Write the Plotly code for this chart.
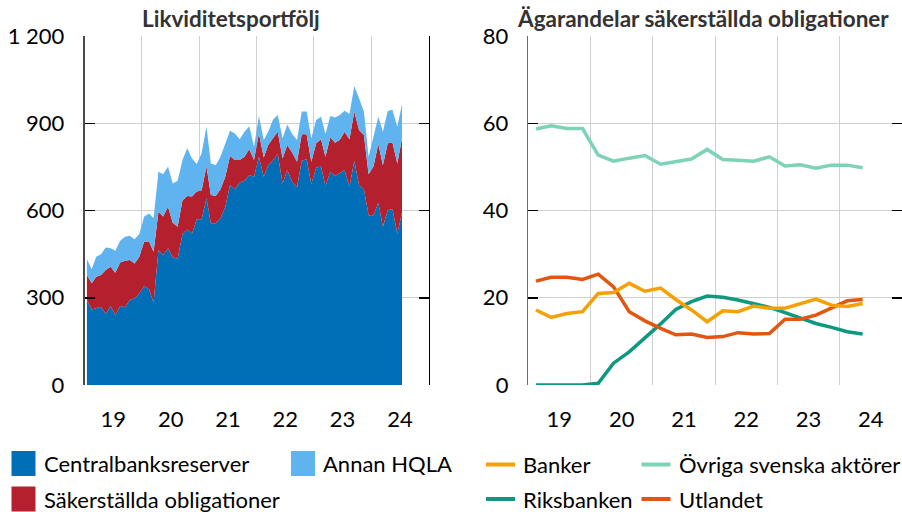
import plotly.graph_objects as go

W, H = 902, 512

# ---------------- data ----------------
month_dates = [f"{y}-{m:02d}-15" for y in range(2019, 2025) for m in range(1, 13)][:67]

centralbanksreserver = [292, 260, 264, 269, 244, 272, 241, 272, 267, 292, 298, 315,
                        340, 329, 283, 464, 447, 470, 439, 434, 519, 535, 521, 570,
                        570, 642, 556, 556, 573, 613, 688, 673, 696, 702, 722, 716,
                        785, 716, 756, 773, 794, 693, 739, 699, 680, 771, 776, 691,
                        748, 751, 684, 733, 719, 730, 739, 682, 771, 688, 673, 584,
                        584, 627, 544, 602, 604, 521, 592]
sakerstallda_oblig = [86, 90, 108, 109, 151, 135, 145, 149, 160, 138, 120, 126,
                      153, 164, 175, 132, 132, 143, 119, 110, 115, 115, 127, 95,
                      100, 109, 97, 94, 100, 103, 99, 101, 78, 83, 89, 58,
                      80, 66, 69, 75, 77, 86, 86, 100, 88, 91, 86, 77,
                      83, 94, 101, 119, 114, 113, 132, 163, 169, 189, 187, 141,
                      167, 202, 212, 229, 230, 241, 256]
annan_hqla = [54, 48, 69, 72, 78, 63, 76, 75, 83, 83, 83, 78,
              86, 97, 115, 137, 146, 138, 135, 158, 140, 164, 131, 95,
              127, 137, 109, 106, 112, 115, 87, 91, 71, 86, 79, 45,
              60, 60, 46, 65, 57, 69, 71, 64, 74, 78, 78, 80,
              80, 77, 78, 73, 87, 85, 72, 87, 88, 109, 80, 60,
              105, 93, 115, 111, 112, 126, 118]

quarter_dates = [f"{y}-{m:02d}-15" for y in range(2019, 2025) for m in (2, 5, 8, 11)][:22]

banker = [17.2, 15.5, 16.4, 16.8, 21.0, 21.2, 23.3, 21.5, 22.2, 19.6, 17.2, 14.5,
          17.0, 16.8, 18.1, 17.6, 17.6, 18.7, 19.7, 18.3, 18.0, 18.7]
ovriga_svenska = [58.7, 59.4, 58.8, 58.8, 52.7, 51.3, 52.0, 52.6, 50.6, 51.1, 51.8, 54.0,
                  51.7, 51.5, 51.3, 52.3, 50.2, 50.5, 49.7, 50.4, 50.4, 49.8]
riksbanken = [0.0, 0.0, 0.0, 0.0, 0.4, 5.0, 7.6, 10.7, 14.0, 17.3, 19.1, 20.4,
              20.1, 19.5, 18.6, 17.8, 16.6, 15.3, 14.1, 13.2, 12.2, 11.7]
utlandet = [23.8, 24.7, 24.7, 24.2, 25.4, 22.5, 16.8, 14.7, 13.0, 11.5, 11.7, 10.9,
            11.1, 12.0, 11.7, 11.8, 15.1, 15.1, 16.0, 17.6, 19.3, 19.6]

year_labels = ["19", "20", "21", "22", "23", "24"]
left_ticks = [0, 300, 600, 900, 1200]
left_ticktext = ["0", "300", "600", "900", "1 200"]
right_ticks = [0, 20, 40, 60, 80]

# ---------------- style ----------------
FONT = "Lato, 'Liberation Sans', sans-serif"
FS = 22
C_CB = "#006FB7"
C_SO = "#B5202E"
C_HQ = "#5FB4F0"
C_BANK = "#F5A005"
C_OVR = "#7DD3B6"
C_RIKS = "#0E9880"
C_UTL = "#E2560F"
GRID = "#CFCFCF"


def px(x):
    return x / W


def py(y):
    return 1 - y / H


fig = go.Figure()

for name, vals, col in [("Centralbanksreserver", centralbanksreserver, C_CB),
                        ("Säkerställda obligationer", sakerstallda_oblig, C_SO),
                        ("Annan HQLA", annan_hqla, C_HQ)]:
    fig.add_trace(go.Scatter(x=month_dates, y=vals, name=name, stackgroup="one",
                             mode="lines", line=dict(width=0, color=col),
                             fillcolor=col, showlegend=False,
                             xaxis="x", yaxis="y"))

for name, vals, col in [("Övriga svenska aktörer", ovriga_svenska, C_OVR),
                        ("Riksbanken", riksbanken, C_RIKS),
                        ("Utlandet", utlandet, C_UTL),
                        ("Banker", banker, C_BANK)]:
    fig.add_trace(go.Scatter(x=quarter_dates, y=vals, name=name, mode="lines",
                             line=dict(width=3.5, color=col), showlegend=False,
                             xaxis="x2", yaxis="y2"))

# dummy traces so overlay (right-side tick) axes exist
fig.add_trace(go.Scatter(x=[], y=[], xaxis="x", yaxis="y3", showlegend=False))
fig.add_trace(go.Scatter(x=[], y=[], xaxis="x2", yaxis="y4", showlegend=False))

yd = [py(385), py(36)]
xd1 = [px(84.7), px(428.7)]
xd2 = [px(528.3), px(902)]

common_x = dict(range=["2019-01-01", "2025-01-01"], type="date",
                tickmode="array",
                tickvals=[f"{y}-07-02" for y in range(2019, 2025)],
                ticktext=year_labels, ticks="", showgrid=False,
                showline=False, zeroline=False,
                ticklabelstandoff=19,
                tickfont=dict(family=FONT, size=FS, color="black"),
                minor=dict(tickmode="array",
                           tickvals=[f"{y}-01-01" for y in range(2020, 2025)],
                           showgrid=True, gridcolor=GRID, gridwidth=1, ticks=""),
                fixedrange=True, automargin=False)

fig.update_layout(
    width=W, height=H, margin=dict(l=0, r=0, t=0, b=0),
    paper_bgcolor="white", plot_bgcolor="white",
    font=dict(family=FONT, size=FS, color="black"),
    showlegend=False,
    xaxis=dict(domain=xd1, anchor="y", **common_x),
    xaxis2=dict(domain=xd2, anchor="y2", **common_x),
    yaxis=dict(domain=yd, anchor="x", range=[0, 1200], tickmode="array",
               tickvals=left_ticks, ticktext=left_ticktext,
               showgrid=True, gridcolor=GRID, gridwidth=1, zeroline=False,
               showline=True, linecolor="#4A4A4A", linewidth=2,
               ticks="inside", ticklen=10, tickwidth=1.5, tickcolor="black",
               ticklabelstandoff=14, automargin=False, fixedrange=True),
    yaxis3=dict(overlaying="y", matches="y", side="right", anchor="x",
                tickmode="array", tickvals=left_ticks, showticklabels=False,
                showgrid=False, zeroline=False, showline=True,
                linecolor="black", linewidth=1,
                ticks="inside", ticklen=10, tickwidth=1.5, tickcolor="black"),
    yaxis2=dict(domain=yd, anchor="x2", range=[0, 80], tickmode="array",
                tickvals=right_ticks,
                showgrid=True, gridcolor=GRID, gridwidth=1, zeroline=False,
                showline=True, linecolor="#6A6A6A", linewidth=1.5,
                ticks="inside", ticklen=10, tickwidth=1.5, tickcolor="black",
                ticklabelstandoff=14, automargin=False, fixedrange=True),
    yaxis4=dict(overlaying="y2", matches="y2", side="right", anchor="x2",
                tickmode="array", tickvals=right_ticks, showticklabels=False,
                showgrid=False, zeroline=False, showline=True,
                linecolor="#D0D0D0", linewidth=1,
                ticks="inside", ticklen=10, tickwidth=1.5, tickcolor="black"),
)

annotations = []
shapes = []

# titles
annotations.append(dict(text="<b>Likviditetsportfölj</b>", x=px(230.5), y=py(18),
                        xref="paper", yref="paper", showarrow=False,
                        xanchor="center", yanchor="middle",
                        font=dict(family=FONT, size=22.5, color="#333333")))
annotations.append(dict(text="<b>Ägarandelar säkerställda obligationer</b>", x=px(703), y=py(18),
                        xref="paper", yref="paper", showarrow=False,
                        xanchor="center", yanchor="middle",
                        font=dict(family=FONT, size=22.5, color="#333333")))

# legend: squares (left)
for (x0, yc, col, label) in [(11.5, 463.5, C_CB, "Centralbanksreserver"),
                             (291, 463.5, C_HQ, "Annan HQLA"),
                             (11.5, 499, C_SO, "Säkerställda obligationer")]:
    shapes.append(dict(type="rect", xref="paper", yref="paper",
                       x0=px(x0), x1=px(x0 + 24), y0=py(yc + 12.5), y1=py(yc - 12.5),
                       fillcolor=col, line=dict(width=0)))
    annotations.append(dict(text=label, x=px(x0 + 30), y=py(yc), xref="paper", yref="paper",
                            showarrow=False, xanchor="left", yanchor="middle",
                            font=dict(family=FONT, size=FS, color="black")))

# legend: lines (right)
for (x0, yc, col, label) in [(486, 464.5, C_BANK, "Banker"),
                             (641.5, 464.5, C_OVR, "Övriga svenska aktörer"),
                             (486, 499, C_RIKS, "Riksbanken"),
                             (641.5, 499, C_UTL, "Utlandet")]:
    shapes.append(dict(type="line", xref="paper", yref="paper",
                       x0=px(x0), x1=px(x0 + 29), y0=py(yc), y1=py(yc),
                       line=dict(color=col, width=4)))
    annotations.append(dict(text=label, x=px(x0 + 35), y=py(yc), xref="paper", yref="paper",
                            showarrow=False, xanchor="left", yanchor="middle",
                            font=dict(family=FONT, size=FS, color="black")))

fig.update_layout(annotations=annotations, shapes=shapes)

fig.write_html("out.html",
               config={"displayModeBar": False, "staticPlot": True},
               post_script="document.body.style.margin='0';"
                           "document.body.style.overflow='hidden';")
